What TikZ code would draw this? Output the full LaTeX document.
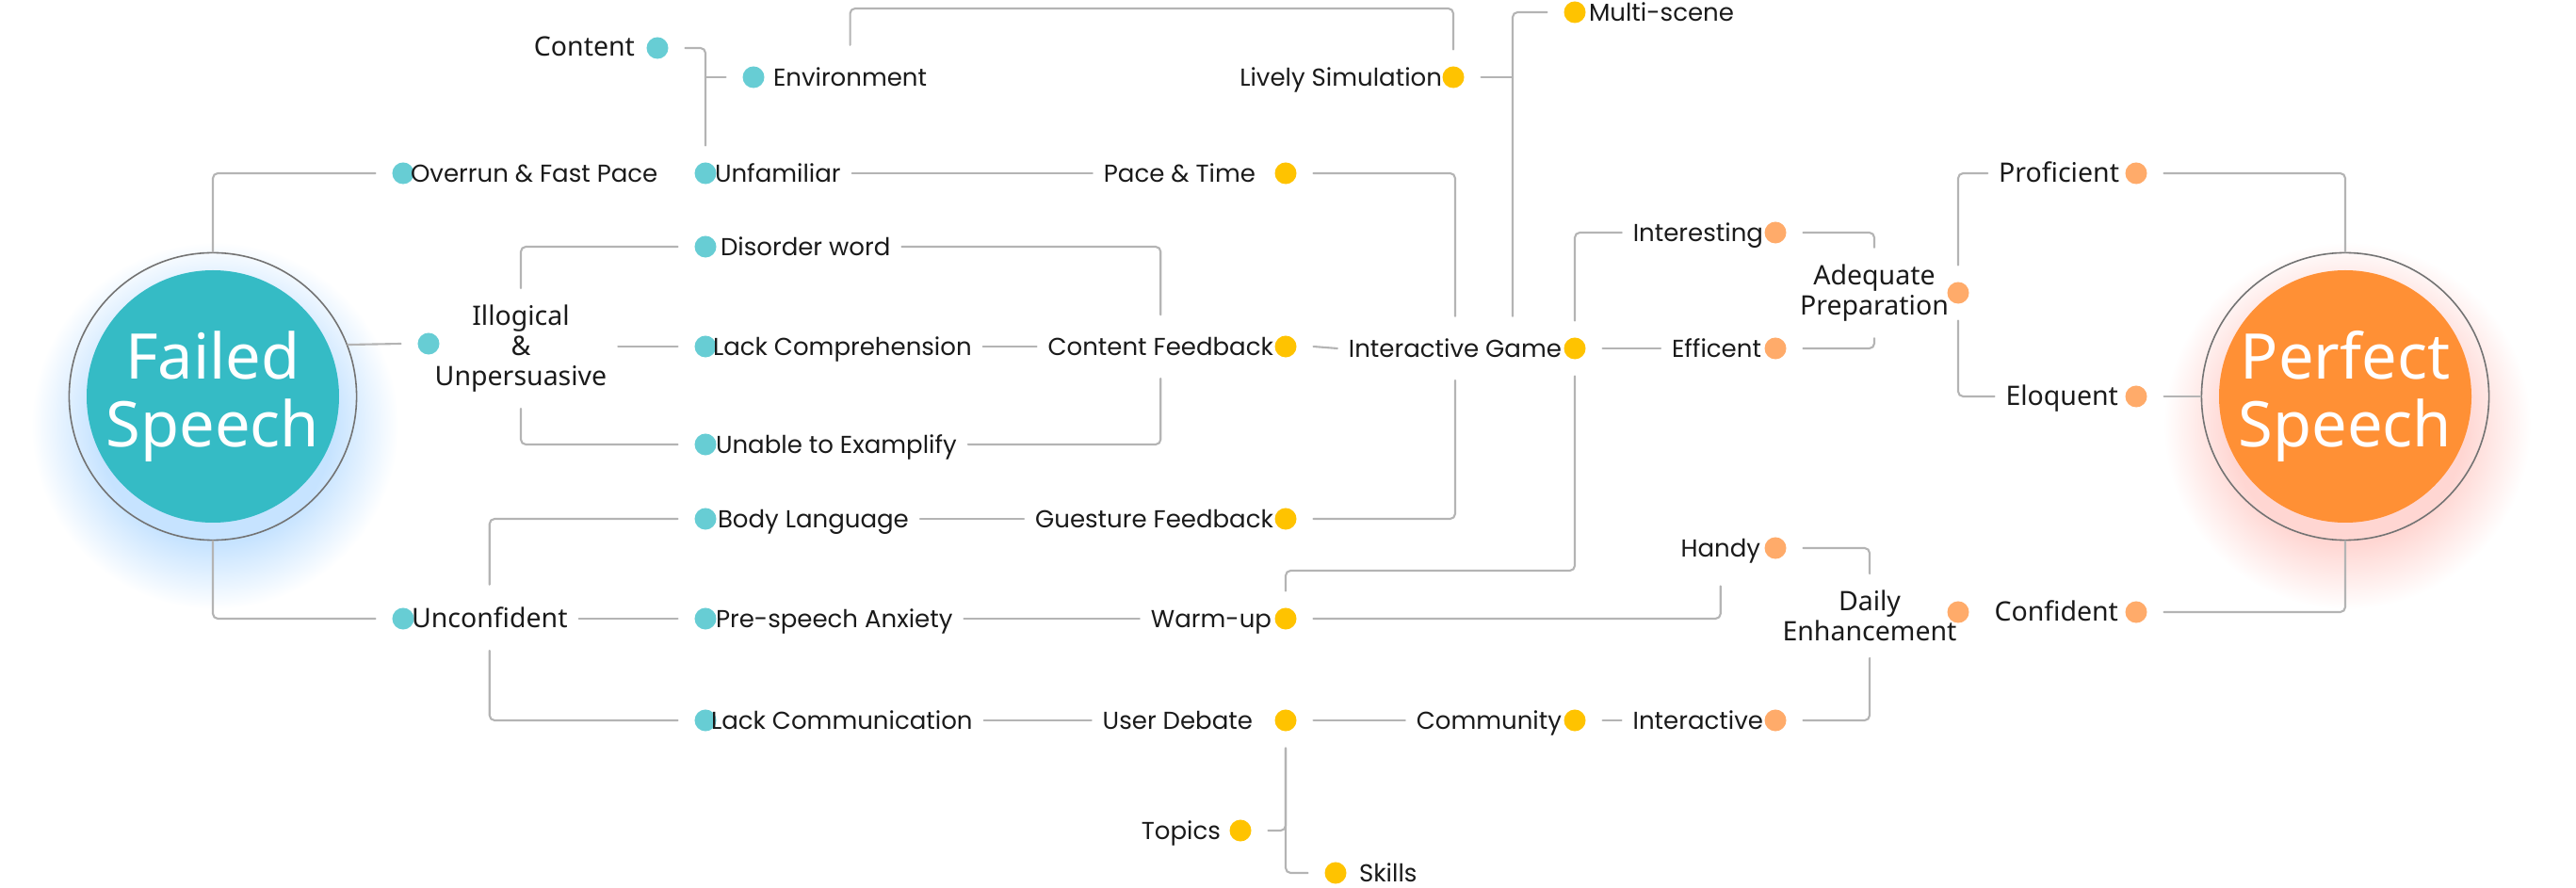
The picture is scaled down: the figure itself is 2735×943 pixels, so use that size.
\documentclass[tikz,border=0pt]{standalone}
\usepackage{fontspec}
\setmainfont{Poppins}
\newfontfamily\humfont{Noto Sans}
\usetikzlibrary{positioning}
\definecolor{linkgray}{HTML}{B4B4B4}
\definecolor{ringgray}{HTML}{737373}
\definecolor{tealdot}{HTML}{67CDD4}
\definecolor{yellowdot}{HTML}{FFC300}
\definecolor{orangedot}{HTML}{FFAB6A}
\definecolor{failteal}{HTML}{35BBC5}
\definecolor{perforange}{HTML}{FF9035}
\definecolor{haloblue}{HTML}{C6E3FF}
\definecolor{halopink}{HTML}{FFD6D2}
\definecolor{labelblack}{HTML}{1A1A1A}
\pgfdeclareradialshading{glowblue}{\pgfpoint{0bp}{0bp}}{color(0bp)=(haloblue); color(16bp)=(haloblue); color(25bp)=(white); color(50bp)=(white)}
\pgfdeclareradialshading{glowpink}{\pgfpoint{0bp}{0bp}}{color(0bp)=(halopink); color(16bp)=(halopink); color(25bp)=(white); color(50bp)=(white)}

\begin{document}
\begin{tikzpicture}[x=0.01cm,y=-0.01cm,line cap=round,line join=round,
  link/.style={draw=linkgray,line width=0.6pt,rounded corners=1.5pt},
  lbl/.style={font=\fontsize{7.4}{9}\selectfont,text=labelblack,inner xsep=1.2mm,inner ysep=2.4mm,outer sep=0pt},
  lblh/.style={lbl,font=\humfont\fontsize{8.1}{9}\selectfont},
  lblm/.style={lblh,align=center,inner ysep=1.8mm},
  dot/.style={circle,minimum size=2.3mm,inner sep=0pt,outer sep=1.8mm},
  tdot/.style={dot,fill=tealdot},
  ydot/.style={dot,fill=yellowdot},
  odot/.style={dot,fill=orangedot},
  ring/.style={circle,draw=ringgray,line width=0.45pt,minimum size=30.5mm,inner sep=0pt,text=white,align=center,font=\humfont\fontsize{19}{20.5}\selectfont}]
\useasboundingbox (0,0) rectangle (2735,943);

\shade[shading=glowblue] (228,452) circle (195);
\shade[shading=glowpink] (2492,452) circle (195);
\fill[failteal] (226,421) circle (134);
\fill[perforange] (2490,421) circle (134);
\node[ring] (failed) at (226,421) {Failed\\Speech};
\node[ring] (perfect) at (2490,421) {Perfect\\Speech};

\node[tdot] (overrun-dot) at (428,184) {};
\node[tdot] (unconf-dot) at (428,657) {};
\node[tdot] (illog-dot) at (455,365) {};
\node[tdot] (content-dot) at (698,51) {};
\node[tdot] (env-dot) at (800,82) {};
\node[tdot] (unfam-dot) at (749,184) {};
\node[tdot] (disorder-dot) at (749,262) {};
\node[tdot] (lackcomp-dot) at (749,368) {};
\node[tdot] (unable-dot) at (749,472) {};
\node[tdot] (body-dot) at (749,551) {};
\node[tdot] (anxiety-dot) at (749,657) {};
\node[tdot] (lackcomm-dot) at (749,765) {};
\node[ydot] (pace-dot) at (1365,184) {};
\node[ydot] (cfeed-dot) at (1365,368) {};
\node[ydot] (gfeed-dot) at (1365,551) {};
\node[ydot] (warm-dot) at (1365,657) {};
\node[ydot] (debate-dot) at (1365,765) {};
\node[ydot] (topics-dot) at (1317,882) {};
\node[ydot] (skills-dot) at (1418,927) {};
\node[ydot] (lively-dot) at (1543,82) {};
\node[ydot] (multi-dot) at (1672,13) {};
\node[ydot] (game-dot) at (1672,370) {};
\node[ydot] (community-dot) at (1672,765) {};
\node[odot] (interesting-dot) at (1885,247) {};
\node[odot] (efficent-dot) at (1885,370) {};
\node[odot] (handy-dot) at (1885,582) {};
\node[odot] (interactive-dot) at (1885,765) {};
\node[odot] (adequate-dot) at (2079,311) {};
\node[odot] (daily-dot) at (2079,650) {};
\node[odot] (proficient-dot) at (2268,184) {};
\node[odot] (eloquent-dot) at (2268,421) {};
\node[odot] (confident-dot) at (2268,650) {};

\node[lbl,anchor=mid west] (overrun) at (424,184) {Overrun \& Fast Pace};
\node[lblh,anchor=mid west] (unconf) at (425,657) {Unconfident};
\node[lblm] (illog) at (553,370) {Illogical\\\&\\Unpersuasive};
\node[lblh,anchor=mid east] (content) at (686,50) {Content};
\node[lbl,anchor=mid west] (env) at (809,82) {Environment};
\node[lbl,anchor=mid west] (unfam) at (747,184) {Unfamiliar};
\node[lbl,anchor=mid west] (disorder) at (753,262) {Disorder word};
\node[lbl,anchor=mid west] (lackcomp) at (745,368) {Lack Comprehension};
\node[lbl,anchor=mid west] (unable) at (748,472) {Unable to Examplify};
\node[lbl,anchor=mid west] (body) at (750,551) {Body Language};
\node[lbl,anchor=mid west] (anxiety) at (748,657) {Pre-speech Anxiety};
\node[lbl,anchor=mid west] (lackcomm) at (743,765) {Lack Communication};
\node[lbl,anchor=mid east] (pace) at (1345,184) {Pace \& Time};
\node[lbl,anchor=mid east] (cfeed) at (1364,368) {Content Feedback};
\node[lbl,anchor=mid east] (gfeed) at (1364,551) {Guesture Feedback};
\node[lbl,anchor=mid east] (warm) at (1362,657) {Warm-up};
\node[lbl,anchor=mid east] (debate) at (1342,765) {User Debate};
\node[lbl,anchor=mid east] (topics) at (1308,882) {Topics};
\node[lbl,anchor=mid west] (skills) at (1431,927) {Skills};
\node[lbl,anchor=mid east] (lively) at (1543,82) {Lively Simulation};
\node[lbl,anchor=mid west] (multi) at (1675,13) {Multi-scene};
\node[lbl,anchor=mid east] (game) at (1670,370) {Interactive Game};
\node[lbl,anchor=mid east] (community) at (1670,765) {Community};
\node[lbl,anchor=mid east] (interesting) at (1884,247) {Interesting};
\node[lbl,anchor=mid east] (efficent) at (1882,370) {Efficent};
\node[lbl,anchor=mid east] (handy) at (1881,582) {Handy};
\node[lbl,anchor=mid east] (interactive) at (1884,765) {Interactive};
\node[lblm] (adequate) at (1990,311) {Adequate\\Preparation};
\node[lblm] (daily) at (1985,654) {Daily\\Enhancement};
\node[lblh,anchor=mid east] (proficient) at (2262,184) {Proficient};
\node[lblh,anchor=mid east] (eloquent) at (2261,421) {Eloquent};
\node[lblh,anchor=mid east] (confident) at (2261,650) {Confident};

\coordinate (topbar) at (1200,9);
\coordinate (warmbar) at (1500,606);
\coordinate (scenejoin) at ([xshift=6.1mm]game.north);

\draw[link] (failed.north) |- (overrun-dot.west);
\draw[link] (failed.21.6) -- (illog-dot.west);
\draw[link] (failed.south) |- (unconf-dot.west);
\draw[link] (illog.north) |- (disorder-dot.west);
\draw[link] (illog.east |- lackcomp-dot) -- (lackcomp-dot.west);
\draw[link] (illog.south) |- (unable-dot.west);
\draw[link] (unconf.north) |- (body-dot.west);
\draw[link] (unconf.mid east) -- (anxiety-dot.west);
\draw[link] (unconf.south) |- (lackcomm-dot.west);
\draw[link] (content-dot.east) -| (unfam-dot.north);
\draw[link] (env-dot.west) -- (env-dot.west -| unfam-dot);
\draw[link] (env.north) |- (topbar -| lively-dot.north) -- (lively-dot.north);
\draw[link] (unfam.mid east) -- (pace.mid west);
\draw[link] (pace-dot.east) -| (game.north);
\draw[link] (disorder.mid east) -| (cfeed.north);
\draw[link] (lackcomp.mid east) -- (cfeed.mid west);
\draw[link] (unable.mid east) -| (cfeed.south);
\draw[link] (cfeed-dot.east) -- (game.mid west);
\draw[link] (body.mid east) -- (gfeed.mid west);
\draw[link] (gfeed-dot.east) -| (game.south);
\draw[link] (anxiety.mid east) -- (warm.mid west);
\draw[link] (lackcomm.mid east) -- (debate.mid west);
\draw[link] (multi-dot.west) -| (scenejoin);
\draw[link] (lively-dot.east) -- (lively-dot.east -| scenejoin);
\draw[link] (game-dot.north) |- (interesting.mid west);
\draw[link] (game-dot.east) -- (efficent.mid west);
\draw[link] (warm-dot.north) |- (warmbar) -| (game-dot.south);
\draw[link] (warm-dot.east) -| (handy.south);
\draw[link] (debate-dot.east) -- (community.mid west);
\draw[link] (community-dot.east) -- (interactive.mid west);
\draw[link] (debate-dot.south) |- (topics-dot.east);
\draw[link] (debate-dot.south) |- (skills-dot.west);
\draw[link] (interesting-dot.east) -| (adequate.north);
\draw[link] (efficent-dot.east) -| (adequate.south);
\draw[link] (handy-dot.east) -| (daily.north);
\draw[link] (interactive-dot.east) -| (daily.south);
\draw[link] (adequate-dot.north) |- (proficient.mid west);
\draw[link] (adequate-dot.south) |- (eloquent.mid west);
\draw[link] (proficient-dot.east) -| (perfect.north);
\draw[link] (eloquent-dot.east) -- (perfect.west);
\draw[link] (confident-dot.east) -| (perfect.south);
\end{tikzpicture}
\end{document}
